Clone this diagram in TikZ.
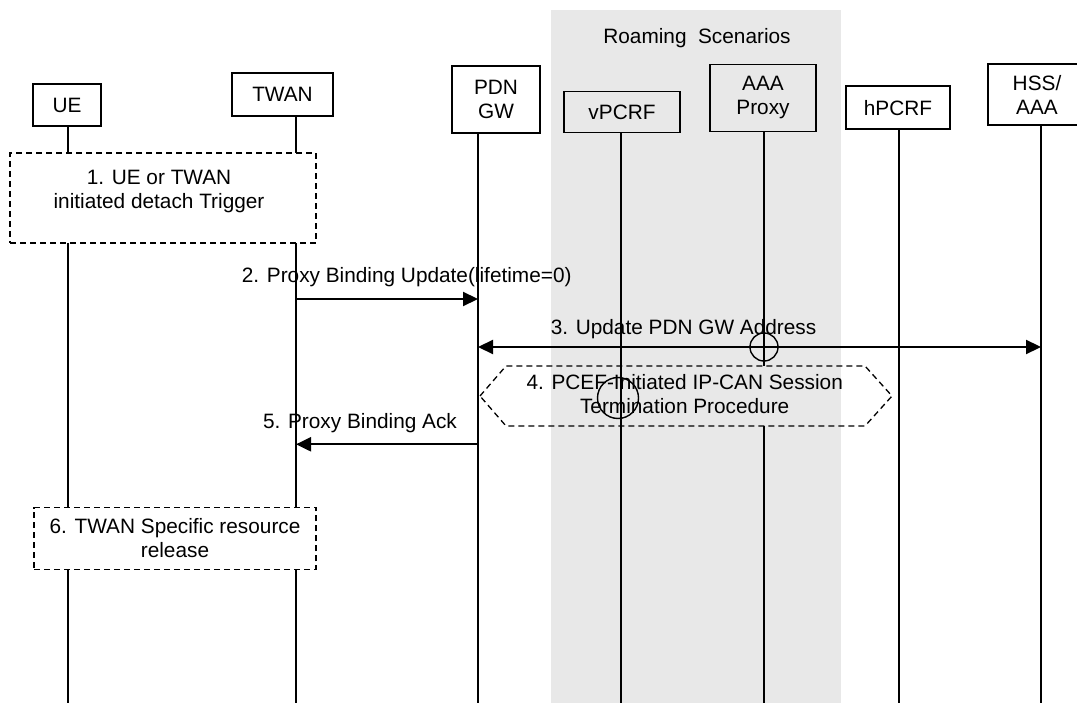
\documentclass[tikz,border=0pt]{standalone}
\usepackage{fontspec}
\setmainfont{Liberation Sans}
\usetikzlibrary{arrows.meta}
\definecolor{roam}{RGB}{232,232,232}
\begin{document}
\begin{tikzpicture}[x=1pt,y=-1pt,
  every node/.style={font=\fontsize{20.8}{24}\selectfont, inner sep=0pt, outer sep=0pt},
  entity/.style={draw, line width=1.6pt, align=center},
  life/.style={line width=1.5pt},
  msg/.style={line width=2.2pt, -{Triangle[length=15pt,width=14pt]}},
  dmsg/.style={line width=2.2pt, {Triangle[length=15pt,width=14pt]}-{Triangle[length=15pt,width=14pt]}},
  dline/.style={dash pattern=on 6pt off 4pt, line width=1.3pt},
  dbox/.style={draw, dline},
  ring/.style={draw, circle, line width=1.4pt},
  lbl/.style={align=center}
]
\useasboundingbox (0,0) rectangle (1077,703);
% roaming region
\fill[roam] (551,10) rectangle (841,703);
\node[anchor=base] (roamlbl) at (697,43.3) {Roaming\ \ Scenarios};

% entities
\node[entity, minimum width=68pt, minimum height=42pt] (ue) at (67,105) {UE};
\node[entity, minimum width=101pt, minimum height=43pt] (twan) at (282.5,94.5) {TWAN};
\node[entity, minimum width=88pt, minimum height=67pt] (pdn) at (496,99.3) {PDN\\GW};
\node[entity, minimum width=116pt, minimum height=41pt] (vpcrf) at (622,112) {vPCRF};
\node[entity, minimum width=106pt, minimum height=67pt] (aaa) at (763,98) {AAA\\Proxy};
\node[entity, minimum width=104pt, minimum height=43pt] (hpcrf) at (898,107.7) {hPCRF};
\node[entity, minimum width=98pt, minimum height=61pt] (hss) at (1037,94.7) {HSS/\\AAA};

% lifeline ends
\coordinate (ueE) at (68,703);
\coordinate (twanE) at (296,703);
\coordinate (pdnE) at (478,703);
\coordinate (vpE) at (621,703);
\coordinate (aaaE) at (764,703);
\coordinate (hpE) at (899,703);
\coordinate (hssE) at (1041,703);

% step boxes
\node[dbox, minimum width=306pt, minimum height=90pt] (s1) at (163,198) {};
\node[lbl] (s1t) at (159,192) {1. UE or TWAN\\initiated detach Trigger};
\node[dbox, lbl, minimum width=282pt, minimum height=61.6pt] (s6) at (175,538.5) {6. TWAN Specific resource\\release};

% hexagon step 4
\coordinate (h1) at (480,396);
\coordinate (h2) at (506,366);
\coordinate (h3) at (865,366);
\coordinate (h4) at (892,396);
\coordinate (h5) at (865,426);
\coordinate (h6) at (506,426);
\draw[dline] (h1) -- (h2) -- (h3) -- (h4) -- (h5) -- (h6) -- cycle;

% lifelines
\draw[life] (ue.south -| ueE) -- (s1.north -| ueE);
\draw[life] (s1.south -| ueE) -- (s6.north -| ueE);
\draw[life] (s6.south -| ueE) -- (ueE);
\draw[life] (twan.south -| twanE) -- (s1.north -| twanE);
\draw[life] (s1.south -| twanE) -- (s6.north -| twanE);
\draw[life] (s6.south -| twanE) -- (twanE);
\draw[life] (pdn.south -| pdnE) -- (pdnE);
\draw[life] (vpcrf.south -| vpE) -- (vpE);
\draw[life] (aaa.south -| aaaE) -- (h2 -| aaaE);
\draw[life] (h6 -| aaaE) -- (aaaE);
\draw[life] (hpcrf.south -| hpE) -- (hpE);
\draw[life] (hss.south -| hssE) -- (hssE);

\node[lbl] (s4t) at (684.7,394.2) {4. PCEF-Initiated IP-CAN Session\\Termination Procedure};

% messages
\coordinate (m2a) at (296,299);
\coordinate (m2b) at (478,299);
\draw[msg] (m2a) -- (m2b);
\node[anchor=base] (l2) at (406.7,283) {2. Proxy Binding Update(lifetime=0)};

\coordinate (m3a) at (478,347);
\coordinate (m3b) at (1041,347);
\draw[dmsg] (m3a) -- (m3b);
\node[anchor=base] (l3) at (683.5,334.3) {3. Update PDN GW Address};

\coordinate (m5a) at (478,444.3);
\coordinate (m5b) at (296,444.3);
\draw[msg] (m5a) -- (m5b);
\node[anchor=base] (l5) at (360,428.3) {5. Proxy Binding Ack};

% rings
\node[ring, minimum size=28pt] (c1) at (764,347) {};
\node[ring, minimum size=41pt] (c2) at (618,398) {};
\end{tikzpicture}
\end{document}
